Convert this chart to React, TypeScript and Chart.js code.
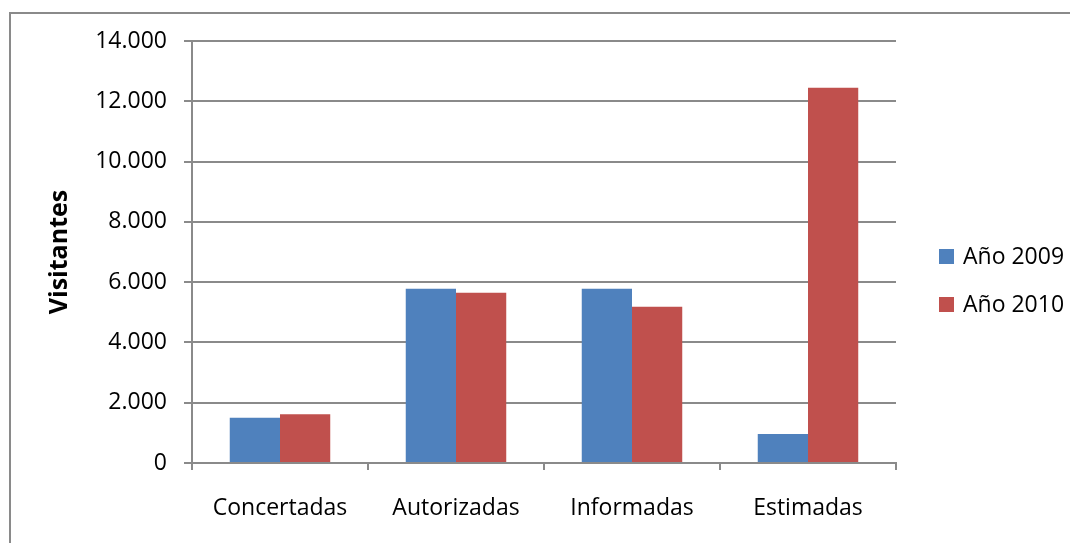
import React, { useEffect, useRef } from "react";
import { Chart, registerables } from "chart.js";

Chart.register(...registerables);

// Visitor counts per category and year
const categories = ["Concertadas", "Autorizadas", "Informadas", "Estimadas"];
const seriesLabels = ["Año 2009", "Año 2010"];
const values2009 = [1500, 5780, 5780, 960];
const values2010 = [1620, 5650, 5180, 12450];
const yTicks = [0, 2000, 4000, 6000, 8000, 10000, 12000, 14000];

const BLUE = "#4F81BD";
const RED = "#C0504D";
const GRID = "#8a8a8a";
const FONT = "'Open Sans', 'Liberation Sans', sans-serif";

const fmt = (v: number) => String(v).replace(/\B(?=(\d{3})+(?!\d))/g, ".");

// Outer frame plus a hand-placed legend on the right
const framePlugin = {
  id: "frameAndLegend",
  beforeDraw(chart: any) {
    const ctx = chart.ctx;
    ctx.save();
    ctx.strokeStyle = GRID;
    ctx.lineWidth = 2;
    ctx.strokeRect(2, 5, 1066, 600);
    ctx.restore();
  },
  afterDraw(chart: any) {
    const ctx = chart.ctx;
    ctx.save();
    const colors = [BLUE, RED];
    const rows = [249, 297];
    seriesLabels.forEach((label, i) => {
      ctx.fillStyle = colors[i];
      ctx.fillRect(931, rows[i] - 8, 15, 15);
      ctx.fillStyle = "#000";
      ctx.font = `23px ${FONT}`;
      ctx.textBaseline = "middle";
      ctx.textAlign = "left";
      ctx.fillText(label, 955, rows[i]);
    });
    ctx.restore();
  },
};

export default function App() {
  const ref = useRef<HTMLCanvasElement | null>(null);

  useEffect(() => {
    if (!ref.current) return;
    const chart = new Chart(ref.current, {
      type: "bar",
      data: {
        labels: categories,
        datasets: [
          { label: seriesLabels[0], data: values2009, backgroundColor: BLUE, borderWidth: 0 },
          { label: seriesLabels[1], data: values2010, backgroundColor: RED, borderWidth: 0 },
        ],
      },
      options: {
        animation: false,
        responsive: false,
        maintainAspectRatio: false,
        layout: { padding: { left: 10, right: 182, top: 33, bottom: 20 } },
        datasets: { bar: { barPercentage: 1, categoryPercentage: 0.571 } },
        plugins: { legend: { display: false }, tooltip: { enabled: false } },
        scales: {
          x: {
            grid: {
              drawOnChartArea: false,
              drawTicks: true,
              tickLength: 7,
              color: GRID,
              lineWidth: 2,
            },
            border: { color: GRID, width: 2 },
            ticks: { color: "#000", font: { family: FONT, size: 23 }, padding: 25 },
            afterFit: (scale: any) => {
              scale.height = 60;
            },
          },
          y: {
            min: 0,
            max: 14000,
            afterBuildTicks: (scale: any) => {
              scale.ticks = yTicks.map((v) => ({ value: v }));
            },
            grid: { color: GRID, lineWidth: 2, tickLength: 8 },
            border: { color: GRID, width: 2 },
            ticks: {
              color: "#000",
              font: { family: FONT, size: 23 },
              padding: 17,
              callback: (v: any) => fmt(Number(v)),
            },
            title: {
              display: true,
              text: "Visitantes",
              color: "#000",
              font: { family: FONT, size: 25, weight: "bold" },
              padding: { top: 27, bottom: 4 },
            },
            afterFit: (scale: any) => {
              scale.width = 174;
            },
          },
        },
      },
      plugins: [framePlugin],
    });
    return () => chart.destroy();
  }, []);

  return (
    <div style={{ width: 1070, height: 535 }}>
      <canvas ref={ref} width={1070} height={535} style={{ display: "block" }} />
    </div>
  );
}
